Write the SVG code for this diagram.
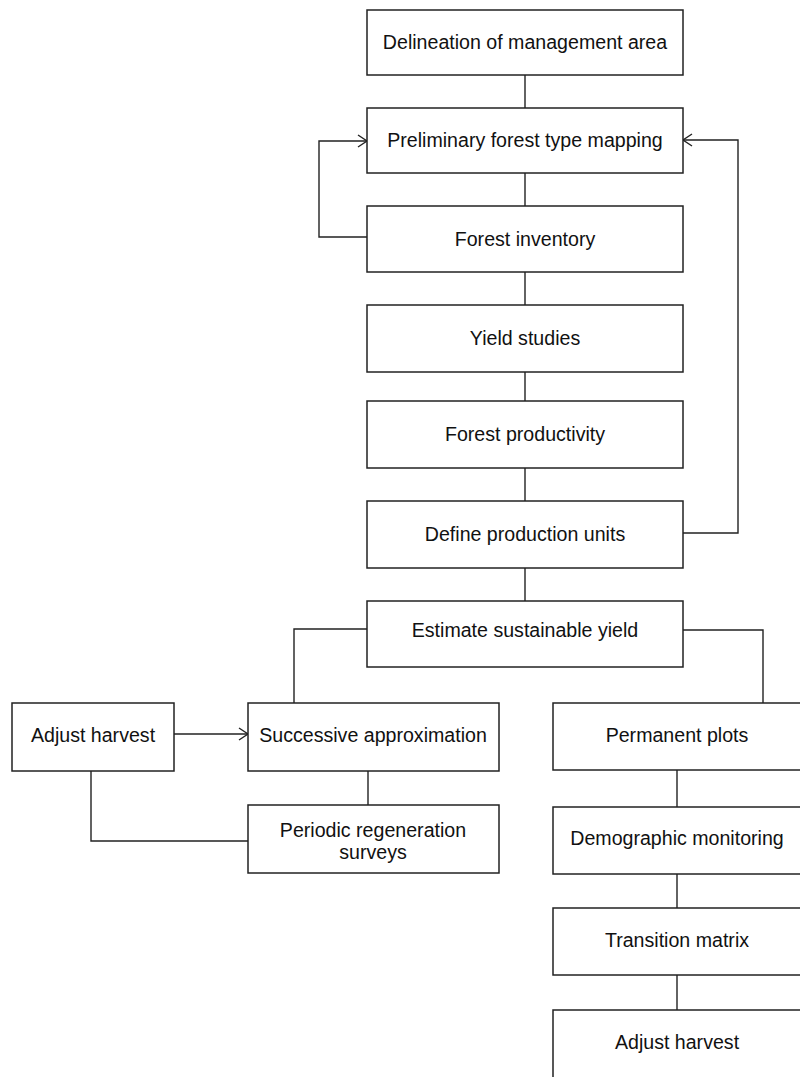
<svg xmlns="http://www.w3.org/2000/svg" width="800" height="1077" viewBox="0 0 800 1077">
<style>
.box{fill:#fff;stroke:#222;stroke-width:1.5}
.lbl{font-family:"Liberation Sans",Arial,sans-serif;font-size:19.6px;fill:#111;text-anchor:middle}
.con{fill:none;stroke:#222;stroke-width:1.4}
</style>
<defs>
<marker id="arr" markerUnits="userSpaceOnUse" markerWidth="12" markerHeight="14" refX="10" refY="7" orient="auto">
<path d="M1,1 L10,7 L1,13" fill="none" stroke="#222" stroke-width="1.4"/>
</marker>
</defs>
<rect width="800" height="1077" fill="#fff"/>
<g id="connectors">
<path class="con" d="M525,75 V108"/>
<path class="con" d="M525,173 V206"/>
<path class="con" d="M525,272 V305"/>
<path class="con" d="M525,372 V401"/>
<path class="con" d="M525,468 V501"/>
<path class="con" d="M525,568 V601"/>
<path class="con" d="M367,237 H319 V141 H367" marker-end="url(#arr)"/>
<path class="con" d="M683,533 H738 V140 H683" marker-end="url(#arr)"/>
<path class="con" d="M367,629 H294 V703"/>
<path class="con" d="M683,630 H763 V703"/>
<path class="con" d="M174,734 H248" marker-end="url(#arr)"/>
<path class="con" d="M368,771 V805"/>
<path class="con" d="M91,771 V841 H248"/>
<path class="con" d="M677,770 V807"/>
<path class="con" d="M677,874 V908"/>
<path class="con" d="M677,975 V1010"/>
</g>
<g id="n1"><rect class="box" x="367" y="10" width="316" height="65"/><text class="lbl" x="525" y="49">Delineation of management area</text></g>
<g id="n2"><rect class="box" x="367" y="108" width="316" height="65"/><text class="lbl" x="525" y="147">Preliminary forest type mapping</text></g>
<g id="n3"><rect class="box" x="367" y="206" width="316" height="66"/><text class="lbl" x="525" y="246">Forest inventory</text></g>
<g id="n4"><rect class="box" x="367" y="305" width="316" height="67"/><text class="lbl" x="525" y="345">Yield studies</text></g>
<g id="n5"><rect class="box" x="367" y="401" width="316" height="67"/><text class="lbl" x="525" y="441">Forest productivity</text></g>
<g id="n6"><rect class="box" x="367" y="501" width="316" height="67"/><text class="lbl" x="525" y="541">Define production units</text></g>
<g id="n7"><rect class="box" x="367" y="601" width="316" height="66"/><text class="lbl" x="525" y="637">Estimate sustainable yield</text></g>
<g id="n8"><rect class="box" x="12" y="703" width="162" height="68"/><text class="lbl" x="93" y="742">Adjust harvest</text></g>
<g id="n9"><rect class="box" x="248" y="703" width="251" height="68"/><text class="lbl" x="373" y="742">Successive approximation</text></g>
<g id="n10"><rect class="box" x="553" y="703" width="250" height="67"/><text class="lbl" x="677" y="742">Permanent plots</text></g>
<g id="n11"><rect class="box" x="248" y="805" width="251" height="68"/><text class="lbl" x="373" y="837">Periodic regeneration</text><text class="lbl" x="373" y="859">surveys</text></g>
<g id="n12"><rect class="box" x="553" y="807" width="250" height="67"/><text class="lbl" x="677" y="845">Demographic monitoring</text></g>
<g id="n13"><rect class="box" x="553" y="908" width="250" height="67"/><text class="lbl" x="677" y="947">Transition matrix</text></g>
<g id="n14"><rect class="box" x="553" y="1010" width="250" height="70"/><text class="lbl" x="677" y="1049">Adjust harvest</text></g>
</svg>
